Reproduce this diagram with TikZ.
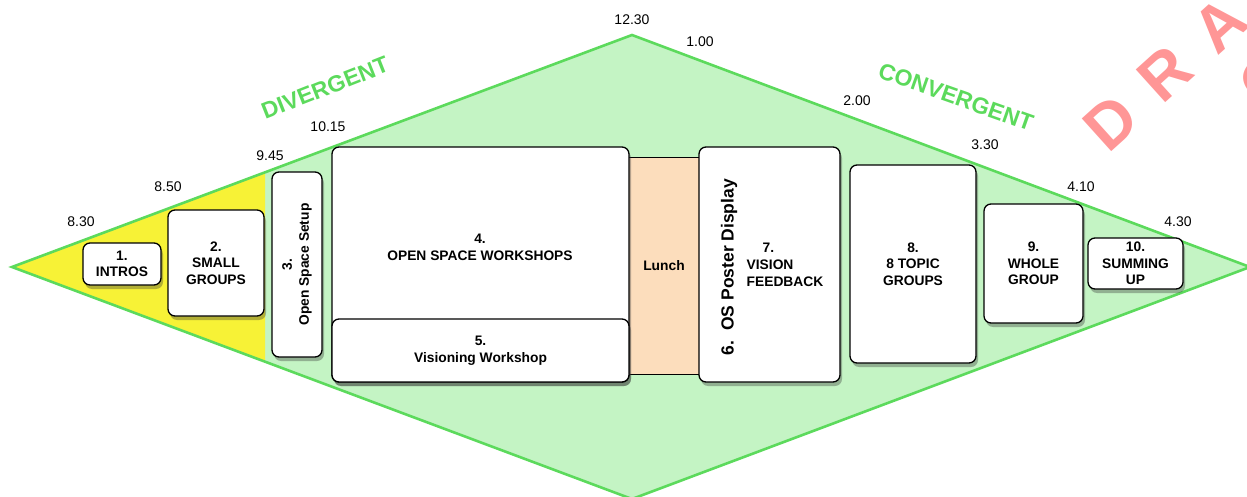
\documentclass[tikz,border=0pt]{standalone}
\usepackage{fontspec}
\setmainfont{Liberation Sans}
\usetikzlibrary{shadows}
\definecolor{dgreen}{HTML}{5CDA5C}
\definecolor{lgreen}{HTML}{C4F4C4}
\definecolor{dyellow}{HTML}{F7F236}
\definecolor{peach}{HTML}{FCDDBC}
\definecolor{wmark}{HTML}{FF9696}
\tikzset{
  box/.style={draw=black, line width=1.3pt, fill=white, rounded corners=7pt,
    inner sep=0pt, align=center,
    font=\fontsize{13.8}{16.5}\selectfont\bfseries,
    drop shadow={shadow xshift=2pt, shadow yshift=-4pt, opacity=0.35, fill=black!80}},
  boxtext/.style={align=center, inner sep=0pt, font=\fontsize{13.8}{16.8}\selectfont\bfseries},
  timelab/.style={font=\fontsize{14}{16}\selectfont, inner sep=0pt},
  phase/.style={text=dgreen, font=\fontsize{23}{25}\selectfont\bfseries, inner sep=0pt},
  wm/.style={text=wmark, font=\fontsize{64}{64}\selectfont\bfseries, inner sep=0pt, rotate=42}
}
\newcommand{\bx}[6]{% name, x1, y1, x2, y2, text
  \node[box, minimum width={(#4-#2)*1pt}, minimum height={(#5-#3)*1pt}] (#1) at ({(#2+#4)/2},{(#3+#5)/2}) {#6};}
\begin{document}
\begin{tikzpicture}[x=1pt,y=-1pt]
\useasboundingbox (0,0) rectangle (1247,497);
\clip (0,0) rectangle (1247,497);
% diamond
\coordinate (L) at (12,267);
\coordinate (T) at (632,35);
\coordinate (R) at (1250,267);
\coordinate (B) at (632,499);
\fill[lgreen] (L) -- (T) -- (R) -- (B) -- cycle;
\fill[dyellow] (L) -- (265,172.4) -- (265,361.6) -- cycle;
\draw[dgreen, line width=2.6pt, line join=miter] (L) -- (T) -- (R) -- (B) -- cycle;
% phase labels
\node[phase, rotate=21.5] (div) at (325,88) {DIVERGENT};
\node[phase, rotate=-19.5] (conv) at (956,97) {CONVERGENT};
% time labels
\node[timelab] (t1) at (81,222) {8.30};
\node[timelab] (t2) at (168,187) {8.50};
\node[timelab] (t3) at (270,156) {9.45};
\node[timelab] (t4) at (328,127) {10.15};
\node[timelab] (t5) at (632,20) {12.30};
\node[timelab] (t6) at (700,42) {1.00};
\node[timelab] (t7) at (857,101) {2.00};
\node[timelab] (t8) at (985,145) {3.30};
\node[timelab] (t9) at (1081,187) {4.10};
\node[timelab] (t10) at (1178,222) {4.30};
% lunch
\node[draw=black, line width=0.9pt, fill=peach, minimum width=72pt, minimum height=217pt, inner sep=0pt,
  font=\fontsize{13.8}{16}\selectfont\bfseries] (lunch) at (664,265.5) {Lunch};
% boxes
\bx{b1}{83}{243}{161}{285}{1.\\INTROS}
\bx{b2}{168}{210}{264}{316}{2.\\SMALL\\GROUPS}
\bx{b3}{272}{172}{322}{357}{}
\node[boxtext, rotate=90] (b3t) at (b3.center) {3.\\Open Space Setup};
\bx{b4}{332}{147}{629}{382}{}
\node[boxtext] (b4t) at (480,247) {4.\\OPEN SPACE WORKSHOPS};
\bx{b5}{332}{319}{629}{382}{5.\\Visioning Workshop}
\bx{b67}{699}{147}{840}{382}{}
\node[inner sep=0pt, rotate=90, font=\fontsize{17.5}{19}\selectfont\bfseries] (b6t) at (729,267) {6.\ \ OS Poster Display};
\node[boxtext, align=left] (b7t) at (785,265) {\hspace*{16pt}7.\\VISION\\FEEDBACK};
\bx{b8}{850}{165}{976}{363}{8.\\8 TOPIC\\GROUPS}
\bx{b9}{984}{204}{1083}{323}{9.\\WHOLE\\GROUP}
\bx{b10}{1088}{238}{1183}{289}{10.\\SUMMING\\UP}
% watermark
\node[wm] (wD) at (1111,123) {D};
\node[wm] (wR) at (1165,74) {R};
\node[wm] (wA) at (1220,25) {A};
\node[wm] (wC) at (1266,80) {C};
\end{tikzpicture}
\end{document}
